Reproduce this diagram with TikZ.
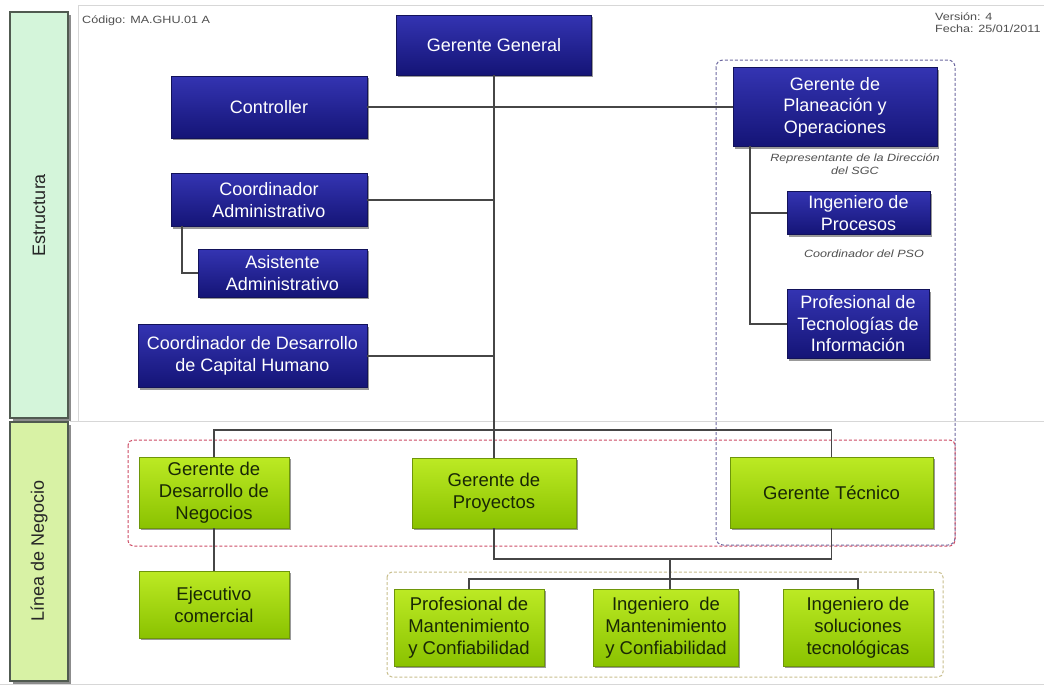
\documentclass[tikz,border=0pt]{standalone}
\usepackage{fontspec}
\setmainfont{Liberation Sans}
\newfontfamily\notefont[FakeStretch=1.2]{Liberation Sans}
\usetikzlibrary{shadows}

\definecolor{bluetop}{RGB}{52,52,178}
\definecolor{bluebot}{RGB}{20,20,118}
\definecolor{blueedge}{RGB}{18,18,90}
\definecolor{greentop}{RGB}{188,234,36}
\definecolor{greenbot}{RGB}{138,194,0}
\definecolor{greenedge}{RGB}{110,150,10}
\definecolor{greentext}{RGB}{25,40,5}
\definecolor{linkgray}{RGB}{70,70,70}
\definecolor{framegray}{RGB}{215,215,215}
\definecolor{bandedge}{RGB}{80,90,80}
\definecolor{bandmint}{RGB}{212,245,218}
\definecolor{bandlime}{RGB}{216,242,165}
\definecolor{dashblue}{RGB}{110,105,160}
\definecolor{dashred}{RGB}{205,75,100}
\definecolor{dashkhaki}{RGB}{200,190,140}
\definecolor{notegray}{RGB}{80,80,80}

\begin{document}
\begin{tikzpicture}[x=1pt,y=-1pt,
  box/.style={align=center, inner sep=0pt, line width=0.6pt,
    drop shadow={shadow xshift=1.5pt, shadow yshift=-2pt, opacity=0.4, fill=black}},
  bluebox/.style={box, draw=blueedge, top color=bluetop, bottom color=bluebot,
    text=white, font=\fontsize{18}{21.5}\selectfont},
  greenbox/.style={box, draw=greenedge, top color=greentop, bottom color=greenbot,
    text=greentext, font=\fontsize{18.5}{22}\selectfont},
  sz/.style 2 args={minimum width=#1, minimum height=#2},
  link/.style={draw=linkgray, line width=1.1pt},
  group/.style={line width=1pt, rounded corners=7pt, dash pattern=on 3pt off 2pt},
  note/.style={align=center, inner sep=0pt, text=notegray,
    font=\notefont\itshape\fontsize{10.5}{13.5}\selectfont},
  hdr/.style={inner sep=0pt, text=notegray, align=left,
    font=\notefont\fontsize{10.5}{11.5}\selectfont},
  band/.style={draw=bandedge, line width=1.6pt},
  bandtext/.style={rotate=90, text=black!85, font=\fontsize{18}{20}\selectfont}
]
\useasboundingbox (0,0) rectangle (1044,686);
\fill[white] (0,0) rectangle (1044,686);

% page frame and section divider
\draw[framegray, line width=0.8pt] (78,421) -- (78,5) -- (1044,5);
\draw[framegray, line width=0.8pt] (70,421) -- (1044,421);
\draw[framegray, line width=0.8pt] (0,684) -- (1044,684);

% side bands
\fill[black!45] (13,15) rectangle (71,421);
\fill[black!45] (13,425) rectangle (71,684);
\draw[band, fill=bandmint] (10,12) rectangle (68,418);
\draw[band, fill=bandlime] (10,422) rectangle (68,681);
\node[bandtext] (estr) at (39,215) {Estructura};
\node[bandtext] (linea) at (39,551) {Línea de Negocio};

% header texts
\node[hdr, anchor=west] (codigo) at (82,21) {Código: MA.GHU.01 A};
\node[hdr, anchor=north west] (version) at (935,13) {Versión: 4\\Fecha: 25/01/2011};

% dashed groupings
\draw[group, draw=dashblue] (716,60) rectangle (955,545);
\draw[group, draw=dashred, rounded corners=5pt] (128,440) rectangle (955,546);
\draw[group, draw=dashkhaki, rounded corners=5pt] (387,572) rectangle (943,677);

% structure boxes
\node[bluebox, sz={195}{60}] (gg) at (494,45) {Gerente General};
\node[bluebox, sz={196}{62}] (ctrl) at (269,107) {Controller};
\node[bluebox, sz={204}{79}] (gpo) at (835,107) {Gerente de\\Planeación y\\Operaciones};
\node[bluebox, sz={196}{53}] (cadm) at (269,200) {Coordinador\\Administrativo};
\node[bluebox, sz={169}{48}] (asis) at (282.5,273) {Asistente\\Administrativo};
\node[bluebox, sz={229}{63}] (cdch) at (252.5,356) {Coordinador de Desarrollo\\de Capital Humano};
\node[bluebox, sz={143}{43}] (ipro) at (858.5,213) {Ingeniero de\\Procesos};
\node[bluebox, sz={142}{69}] (pti) at (858,324) {Profesional de\\Tecnologías de\\Información};

\node[note] (rep) at (855,164) {Representante de la Dirección\\del SGC};
\node[note] (pso) at (864,254) {Coordinador del PSO};

% business line boxes
\node[greenbox, sz={150}{71}] (gdn) at (214,492.5) {Gerente de\\Desarrollo de\\Negocios};
\node[greenbox, sz={164}{70}] (gpy) at (494,493) {Gerente de\\Proyectos};
\node[greenbox, sz={203}{71}] (gtec) at (831.5,492.5) {Gerente Técnico};
\node[greenbox, sz={150}{67}] (ejc) at (214,604.5) {Ejecutivo\\comercial};
\node[greenbox, sz={150}{77}] (pmc) at (469,627.5) {Profesional de\\Mantenimiento\\y Confiabilidad};
\node[greenbox, sz={145}{77}] (imc) at (666,627.5) {Ingeniero\ \ de\\Mantenimiento\\y Confiabilidad};
\node[greenbox, sz={150}{77}] (isl) at (858,627.5) {Ingeniero de\\soluciones\\tecnológicas};

% junction points
\coordinate (bus) at (494,430);
\coordinate (ca) at (182,226);
\coordinate (gp) at (750,146);
\coordinate (br) at (670,559);
\coordinate (sb) at (670,579);

% connectors
\draw[link] (gg.south) -- (gpy.north);
\draw[link] (ctrl.east) -- (gpo.west);
\draw[link] (cadm.east) -- (cadm.east -| gg.south);
\draw[link] (cdch.east) -- (cdch.east -| gg.south);
\draw[link] (ca) |- (asis.west);
\draw[link] (gp) |- (pti.west);
\draw[link] (gp |- ipro.west) -- (ipro.west);
\draw[link] (gdn.north) |- (bus) -| (gtec.north);
\draw[link] (gdn.south) -- (ejc.north);
\draw[link] (gpy.south) |- (br) -| (gtec.south);
\draw[link] (br) -- (br |- imc.north);
\draw[link] (pmc.north) |- (sb) -| (isl.north);
\end{tikzpicture}
\end{document}
